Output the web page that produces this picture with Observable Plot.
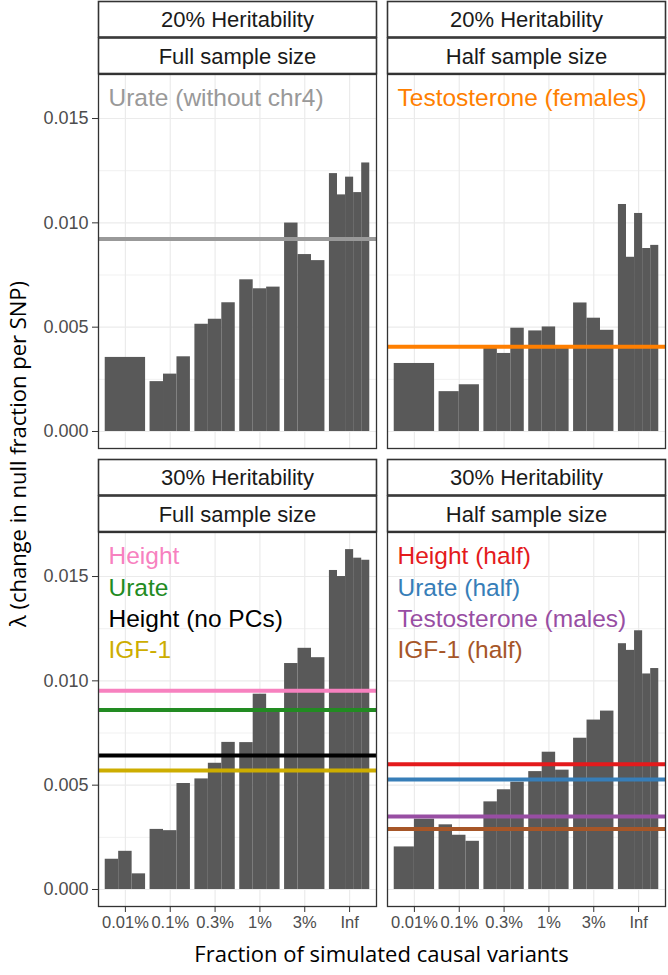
<!DOCTYPE html>
<html><head><meta charset="utf-8">
<script src="https://cdn.jsdelivr.net/npm/d3@7"></script>
<script src="https://cdn.jsdelivr.net/npm/@observablehq/plot@0.6"></script>
<style>
body{margin:0;background:#fff;}
#wrap{position:relative;width:668px;height:975px;}
.ttl{position:absolute;font-family:"Open Sans",sans-serif;font-size:22px;color:#000;white-space:nowrap;transform:translate(-50%,-50%);}
.ttl.rot{transform:translate(-50%,-50%) rotate(-90deg);}
</style>
</head><body>
<div id="wrap"></div>
<script>
const categories = ["0.01%", "0.1%", "0.3%", "1%", "3%", "Inf"];
const heritability = ["20% Heritability", "30% Heritability"];
const sampleSize = ["Full sample size", "Half sample size"];

// λ per replicate bar, grouped by fraction of causal variants
const barsH20Full = [[0.00355], [0.00239, 0.00275, 0.00358], [0.00514, 0.00538, 0.00617], [0.00727, 0.00684, 0.00692], [0.00999, 0.00848, 0.00819], [0.01236, 0.01134, 0.01219, 0.01145, 0.01287]];
const barsH20Half = [[0.00326], [0.00191, 0.00224], [0.00400, 0.00374, 0.00495], [0.00482, 0.00501, 0.00400], [0.00616, 0.00543, 0.00485], [0.01088, 0.00835, 0.01045, 0.00877, 0.00892]];
const barsH30Full = [[0.00145, 0.00183, 0.00075], [0.00288, 0.00282, 0.00508], [0.00530, 0.00605, 0.00705], [0.00704, 0.00936, 0.00855], [0.01083, 0.01156, 0.01111], [0.01529, 0.01500, 0.01629, 0.01588, 0.01578]];
const barsH30Half = [[0.00204, 0.00337], [0.00310, 0.00260, 0.00231], [0.00420, 0.00478, 0.00514], [0.00565, 0.00658, 0.00572], [0.00725, 0.00812, 0.00855], [0.01178, 0.01146, 0.01240, 0.01033, 0.01059]];

// Reference traits (horizontal lines)
const refTraits = ["Urate (without chr4)", "Testosterone (females)", "Height", "Urate", "Height (no PCs)", "IGF-1", "Height (half)", "Urate (half)", "Testosterone (males)", "IGF-1 (half)"];
const refLambda = [0.00923, 0.00406, 0.00952, 0.00860, 0.00642, 0.00570, 0.00600, 0.00527, 0.00350, 0.00290];
const refColors = ["#999999", "#FF7F00", "#F781BF", "#228B22", "#000000", "#CDAD00", "#E41A1C", "#377EB8", "#984EA3", "#A65628"];
const refPanel = [0, 1, 2, 2, 2, 2, 3, 3, 3, 3];

const yTicks = [0, 0.005, 0.010, 0.015];
const yMinor = [0.0025, 0.0075, 0.0125];

const panelBars = [barsH20Full, barsH20Half, barsH30Full, barsH30Half];
const panelH = [0, 0, 1, 1];
const panelS = [0, 1, 0, 1];

const bars = [];
panelBars.forEach((groups, p) => {
  groups.forEach((vals, g) => {
    const n = vals.length;
    vals.forEach((v, i) => {
      const x1 = (g + 1) - 0.45 + i * 0.9 / n;
      bars.push({h: heritability[panelH[p]], s: sampleSize[panelS[p]], x1, x2: x1 + 0.9 / n, value: v});
    });
  });
});

const rankCount = {};
const refs = refTraits.map((t, i) => {
  const p = refPanel[i];
  const k = rankCount[p] || 0; rankCount[p] = k + 1;
  return {h: heritability[panelH[p]], s: sampleSize[panelS[p]], trait: t, value: refLambda[i], color: refColors[i], rank: k};
});

const strips = [];
heritability.forEach(h => sampleSize.forEach(s => strips.push({h, s})));

const FONT = "'Liberation Sans', Arial, sans-serif";
const stripFont = 22;
const labelMarks = [0, 1, 2, 3].map(k => Plot.text(refs.filter(d => d.rank === k), {
  fx: "s", fy: "h", text: "trait", fill: "color",
  frameAnchor: "top-left", textAnchor: "start", lineAnchor: "middle",
  dx: 10, dy: 24 + 31.3 * k, fontSize: 24.5, fontFamily: FONT
}));

const chart = Plot.plot({
  width: 668, height: 975,
  marginLeft: 97, marginRight: 2, marginTop: 73, marginBottom: 68,
  style: {fontFamily: FONT, background: "white"},
  fx: {domain: sampleSize, axis: null, paddingInner: 0.0379, paddingOuter: 0},
  fy: {domain: heritability, axis: null, paddingInner: 0.183, paddingOuter: 0},
  x: {type: "linear", domain: [0.4, 6.6], axis: null},
  y: {domain: [-0.000815, 0.01711], axis: null},
  marks: [
    Plot.ruleY(yMinor, {stroke: "#ebebeb", strokeWidth: 0.7}),
    Plot.ruleY(yTicks, {stroke: "#ebebeb", strokeWidth: 1.2}),
    Plot.ruleX([1, 2, 3, 4, 5, 6], {stroke: "#ebebeb", strokeWidth: 1.2}),
    Plot.rect(bars, {fx: "s", fy: "h", x1: "x1", x2: "x2", y1: 0, y2: "value", fill: "#595959"}),
    Plot.ruleY(refs, {fx: "s", fy: "h", y: "value", stroke: "color", strokeWidth: 4}),
    ...labelMarks,
    Plot.frame({stroke: "#333333", strokeWidth: 1.3}),
    Plot.frame({fill: "white", stroke: "#333333", strokeWidth: 1.6, insetTop: -73, insetBottom: 375 + 36.5}),
    Plot.frame({fill: "white", stroke: "#333333", strokeWidth: 1.6, insetTop: -36.5, insetBottom: 375}),
    Plot.text(strips, {fx: "s", fy: "h", text: "h", frameAnchor: "top", lineAnchor: "middle", dy: -54.5, fontSize: stripFont, fill: "#1a1a1a"}),
    Plot.text(strips, {fx: "s", fy: "h", text: "s", frameAnchor: "top", lineAnchor: "middle", dy: -18, fontSize: stripFont, fill: "#1a1a1a"}),
    Plot.axisY({ticks: yTicks, tickFormat: d3.format(".3f"), tickSize: 6, tickPadding: 4, fontSize: 18, color: "#333333", fill: "#4d4d4d", label: null}),
    Plot.axisX({ticks: [1, 2, 3, 4, 5, 6], tickFormat: i => categories[i - 1], tickSize: 6, tickPadding: 4, fontSize: 16.5, color: "#333333", fill: "#4d4d4d", label: null})
  ]
});

const wrap = document.getElementById("wrap");
wrap.appendChild(chart);
chart.style.position = "absolute"; chart.style.left = "0"; chart.style.top = "0";

const xt = document.createElement("div");
xt.className = "ttl"; xt.textContent = "Fraction of simulated causal variants";
xt.style.left = "381.5px"; xt.style.top = "953px";
wrap.appendChild(xt);

const yt = document.createElement("div");
yt.className = "ttl rot"; yt.textContent = "λ (change in null fraction per SNP)";
yt.style.left = "17px"; yt.style.top = "453.5px";
wrap.appendChild(yt);
</script>
</body></html>
